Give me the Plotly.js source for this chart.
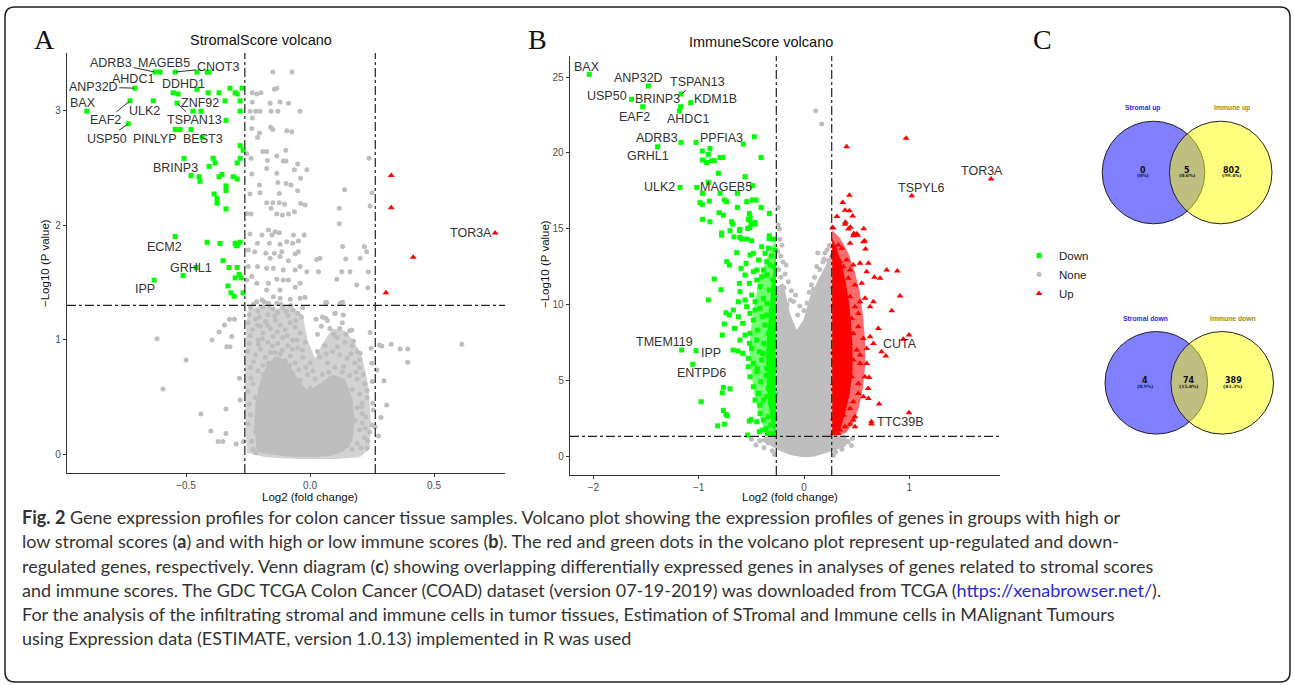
<!DOCTYPE html>
<html><head><meta charset="utf-8">
<script src="https://cdn.plot.ly/plotly-3.0.1.min.js"></script>
<style>html,body{margin:0;padding:0;background:#fff;}#fig{width:1295px;height:685px;}</style>
</head><body><div id="fig"></div>
<script>
const W = 1295, H = 685;
const FONT = 'Liberation Sans, Arial, sans-serif';
const CAPFONT = 'Lato, Open Sans, sans-serif';

// ---------- thresholds ----------
const FC_CUT = 0.263;   // log2(1.2)
const P_CUT = 1.301;    // -log10(0.05)

// ---------- Panel A: StromalScore volcano ----------
const aDown = [[-0.625,3.33],[-0.605,3.33],[-0.544,3.33],[-0.456,3.33],[-0.415,3.33],[-0.407,3.33],[-0.706,3.19],[-0.552,3.15],[-0.532,3.14],[-0.456,3.18],[-0.411,3.15],[-0.367,3.15],[-0.323,3.19],[-0.302,3.15],[-0.294,3.14],[-0.274,3.19],[-0.726,3.08],[-0.632,3.08],[-0.536,3.06],[-0.343,3.08],[-0.282,3.08],[-0.9,2.99],[-0.472,2.99],[-0.44,2.99],[-0.282,2.99],[-0.733,2.88],[-0.339,2.91],[-0.544,2.83],[-0.524,2.83],[-0.48,2.83],[-0.435,2.76],[-0.282,2.69],[-0.27,2.65],[-0.508,2.58],[-0.282,2.58],[-0.391,2.58],[-0.383,2.54],[-0.407,2.51],[-0.294,2.54],[-0.48,2.43],[-0.448,2.42],[-0.444,2.38],[-0.355,2.44],[-0.367,2.42],[-0.31,2.42],[-0.294,2.40],[-0.339,2.34],[-0.339,2.30],[-0.387,2.27],[-0.375,2.23],[-0.375,2.19],[-0.339,2.14],[-0.544,1.9],[-0.415,1.85],[-0.363,1.84],[-0.302,1.84],[-0.298,1.82],[-0.282,1.85],[-0.294,1.82],[-0.351,1.69],[-0.327,1.63],[-0.294,1.63],[-0.46,1.63],[-0.512,1.56],[-0.286,1.57],[-0.278,1.54],[-0.302,1.54],[-0.629,1.52],[-0.331,1.47],[-0.319,1.41],[-0.306,1.38],[-0.27,1.41]];
const aUp = [[0.327,2.43],[0.327,2.15],[0.416,1.72],[0.306,1.41],[0.746,1.93]];
const aNoneTop = [[-0.150,3.33],[-0.073,3.33],[-0.233,3.15],[-0.215,3.14],[-0.198,3.15],[-0.144,3.18],[-0.134,3.19],[-0.233,3.07],[-0.161,3.06],[-0.121,3.07],[-0.087,3.06],[-0.242,2.99],[-0.219,2.99],[-0.202,2.99],[-0.157,2.99],[-0.130,2.99],[-0.040,2.99],[-0.233,2.93],[-0.235,2.84],[-0.159,2.85],[-0.151,2.83],[-0.094,2.82],[-0.074,2.81],[-0.204,2.80],[-0.212,2.76],[-0.191,2.64],[-0.175,2.64],[-0.098,2.65],[-0.134,2.60],[-0.255,2.62],[-0.238,2.58],[-0.172,2.56],[-0.108,2.556],[-0.097,2.556],[-0.050,2.53],[-0.063,2.48],[-0.013,2.48],[0.238,2.58],[-0.235,2.443],[-0.175,2.492],[-0.134,2.45],[-0.130,2.37],[-0.097,2.362],[-0.077,2.348],[-0.204,2.348],[-0.202,2.281],[-0.242,2.27],[-0.124,2.275],[-0.050,2.298],[-0.038,2.406],[0.139,2.307],[0.250,2.281],[-0.175,2.194],[-0.150,2.194],[-0.124,2.194],[-0.157,2.145],[-0.134,2.096],[-0.111,2.087],[-0.087,2.096],[-0.063,2.116],[-0.038,2.188],[-0.020,2.174],[-0.103,2.18],[-0.255,2.1],[-0.238,2.096],[0.118,2.145],[0.118,2.01],[0.242,2.165]];
const aNoneUpper = [[-0.168,1.957],[-0.141,1.942],[-0.124,1.933],[-0.154,1.913],[-0.194,1.913],[-0.242,1.922],[-0.212,1.841],[-0.164,1.841],[-0.121,1.832],[-0.094,1.855],[-0.070,1.841],[-0.047,1.861],[-0.024,1.913],[-0.067,1.913],[-0.047,1.768],[-0.060,1.748],[-0.114,1.768],[-0.144,1.754],[-0.178,1.754],[-0.223,1.768],[-0.249,1.783],[-0.161,1.710],[-0.121,1.725],[-0.087,1.690],[-0.040,1.638],[-0.060,1.609],[-0.013,1.594],[-0.108,1.609],[-0.148,1.623],[-0.175,1.623],[-0.212,1.638],[-0.249,1.638],[-0.235,1.551],[-0.255,1.522],[-0.215,1.493],[-0.168,1.493],[-0.134,1.528],[-0.108,1.522],[-0.087,1.522],[-0.060,1.458],[-0.040,1.493],[-0.121,1.435],[-0.175,1.435],[-0.148,1.377],[-0.121,1.362],[-0.215,1.333],[-0.194,1.348],[-0.168,1.319],[-0.134,1.319],[-0.080,1.354],[-0.040,1.362],[-0.020,1.371],[0.027,1.701],[0.040,1.710],[0.131,1.812],[0.144,1.704],[0.219,1.812],[0.228,1.768],[0.202,1.710],[0.034,1.594],[0.108,1.528],[0.128,1.594],[0.161,1.594],[0.235,1.594],[0.188,1.478],[0.067,1.328],[0.131,1.328],[0.233,1.455]];
const aNoneOuter = [[-0.617,1.01],[-0.5,0.826],[-0.593,0.574],[-0.44,0.357],[-0.4,0.209],[-0.339,0.4],[-0.371,0.116],[-0.352,0.116],[-0.339,0.187],[-0.323,0.94],[-0.336,0.94],[-0.367,1.07],[-0.345,1.13],[-0.325,1.18],[-0.305,1.18],[-0.316,1.03],[-0.395,1.0],[-0.285,0.667],[-0.282,0.478],[-0.298,0.096],[-0.269,0.116],[0.242,1.064],[0.246,0.928],[0.249,0.797],[0.251,0.638],[0.253,0.449],[0.255,0.391],[0.249,0.261],[0.280,0.957],[0.289,0.948],[0.327,0.962],[0.363,0.922],[0.394,0.922],[0.394,0.806],[0.612,0.962],[0.298,0.646],[0.309,0.435],[0.286,0.325],[0.269,0.739],[0.262,0.246],[0.276,0.165],[0.222,0.232],[0.208,0.42],[0.202,0.884],[0.168,1.087],[0.134,1.217],[0.101,1.232],[0.063,1.188],[0.024,1.18],[0.121,1.319],[0.063,1.325]];
const aNoneMid = [[-0.24,1.28],[-0.21,1.25],[-0.19,1.29],[-0.17,1.22],[-0.15,1.27],[-0.13,1.24],[-0.11,1.28],[-0.09,1.21],[-0.07,1.26],[-0.05,1.23],[-0.03,1.28],[-0.25,1.15],[-0.22,1.18],[-0.2,1.12],[-0.18,1.16],[-0.16,1.1],[-0.14,1.17],[-0.12,1.13],[-0.1,1.09],[-0.08,1.15],[-0.06,1.11],[-0.04,1.06],[-0.24,1.04],[-0.21,1.0],[-0.19,1.06],[-0.17,0.98],[-0.15,1.03],[-0.13,0.97],[-0.11,1.02],[-0.09,0.95],[-0.07,1.0],[-0.05,0.93],[-0.02,0.98],[-0.25,0.9],[-0.22,0.87],[-0.2,0.92],[-0.18,0.85],[-0.16,0.89],[-0.14,0.83],[-0.12,0.88],[-0.1,0.82],[-0.08,0.86],[-0.06,0.8],[-0.03,0.85],[0.0,0.8],[-0.24,0.76],[-0.21,0.73],[-0.19,0.78],[-0.17,0.7],[-0.15,0.75],[-0.13,0.68],[-0.11,0.73],[-0.09,0.66],[-0.07,0.71],[-0.04,0.65],[-0.01,0.7],[0.02,0.66],[-0.23,0.62],[-0.2,0.58],[-0.22,0.5],[-0.2,0.42],[-0.21,0.3],[-0.22,0.2],[-0.2,0.1],[-0.23,0.05],[-0.24,0.35],[-0.25,0.55],[0.05,1.2],[0.1,1.23],[0.13,1.15],[0.16,1.08],[0.08,1.1],[0.03,1.05],[0.11,1.02],[0.14,0.98],[0.17,0.95],[0.19,0.9],[0.06,0.95],[0.09,0.9],[0.12,0.87],[0.15,0.84],[0.18,0.8],[0.2,0.76],[0.04,0.85],[0.07,0.8],[0.1,0.76],[0.13,0.72],[0.16,0.69],[0.19,0.66],[0.22,0.62],[0.05,0.7],[0.08,0.66],[0.11,0.63],[0.14,0.6],[0.17,0.57],[0.2,0.53],[0.23,0.5],[0.16,0.45],[0.19,0.41],[0.21,0.36],[0.18,0.3],[0.2,0.22],[0.22,0.15],[0.19,0.1],[0.23,0.06],[0.17,0.05],[0.21,0.28],[0.24,0.2],[0.15,0.38],[-0.17,0.2],[-0.19,0.25],[-0.18,0.45],[-0.16,0.55],[-0.05,0.6],[0.0,0.58],[0.04,0.6],[0.15,0.25],[0.16,0.15],[0.15,0.08],[-0.15,0.05],[-0.12,0.62],[-0.08,0.62],[0.1,0.58]];
const aNoneMid2 = [[-0.245,1.22],[-0.228,1.31],[-0.205,1.2],[-0.185,1.33],[-0.165,1.3],[-0.142,1.21],[-0.118,1.31],[-0.098,1.25],[-0.078,1.3],[-0.058,1.17],[-0.035,1.2],[-0.232,1.09],[-0.212,1.13],[-0.192,1.01],[-0.172,1.13],[-0.152,0.95],[-0.132,1.07],[-0.112,0.91],[-0.092,1.04],[-0.072,0.92],[-0.052,1.0],[-0.03,0.91],[-0.245,0.97],[-0.228,0.81],[-0.208,0.96],[-0.188,0.7],[-0.168,0.8],[-0.142,0.89],[-0.122,0.77],[-0.1,0.7],[-0.082,0.78],[-0.062,0.67],[-0.045,0.74],[-0.018,0.76],[0.012,0.73],[0.03,0.9],[0.045,1.12],[0.07,1.17],[0.095,1.05],[0.12,1.1],[0.145,1.05],[0.175,0.99],[0.065,0.88],[0.11,0.94],[0.165,0.88],[0.2,0.83],[0.215,0.7],[0.23,0.56],[0.075,0.72],[0.135,0.77],[0.185,0.72],[0.21,0.45],[0.225,0.33],[0.232,0.12],[0.205,0.06],[-0.238,0.67],[-0.245,0.44],[-0.25,0.27],[-0.235,0.12],[-0.212,0.38],[-0.218,0.02]];
const aNoneHalo = [[-0.255,0.02],[-0.262,0.35],[-0.262,0.8],[-0.258,1.1],[-0.248,1.26],[-0.2,1.3],[-0.14,1.27],[-0.08,1.3],[-0.03,1.22],[-0.01,1.0],[0.02,0.84],[0.05,0.97],[0.09,1.1],[0.14,1.08],[0.18,0.98],[0.21,0.85],[0.235,0.6],[0.245,0.3],[0.24,0.05],[0.2,-0.02],[0.1,-0.035],[-0.05,-0.035],[-0.18,-0.02]];
const aNoneCore = [[-0.215,0.04],[-0.225,0.25],[-0.22,0.45],[-0.2,0.65],[-0.17,0.8],[-0.13,0.86],[-0.09,0.8],[-0.05,0.66],[-0.01,0.56],[0.04,0.62],[0.09,0.7],[0.14,0.66],[0.17,0.5],[0.18,0.3],[0.17,0.12],[0.135,0.03],[0.08,-0.01],[0.0,-0.02],[-0.08,-0.015],[-0.15,0.0],[-0.195,0.015]];
const aLabGenes = ['ADRB3','MAGEB5','CNOT3','AHDC1','ANP32D','DDHD1','BAX','ZNF92','ULK2','EAF2','TSPAN13','USP50','PINLYP','BEST3','BRINP3','ECM2','GRHL1','IPP','TOR3A'];
const aLabPts = [[-0.625,3.33],[-0.605,3.33],[-0.544,3.33],[-0.706,3.19],[-0.706,3.19],[-0.456,3.18],[-0.9,2.99],[-0.472,2.99],[-0.632,3.08],[-0.726,3.08],[-0.536,3.06],[-0.733,2.88],[-0.544,2.83],[-0.435,2.76],[-0.508,2.58],[-0.544,1.9],[-0.46,1.63],[-0.629,1.52],[0.746,1.93]];
const aLabPos = [[-0.802,3.41],[-0.589,3.41],[-0.371,3.37],[-0.712,3.27],[-0.874,3.2],[-0.512,3.23],[-0.915,3.06],[-0.444,3.06],[-0.669,2.99],[-0.823,2.91],[-0.464,2.91],[-0.819,2.75],[-0.625,2.75],[-0.431,2.75],[-0.544,2.5],[-0.585,1.81],[-0.48,1.63],[-0.665,1.44],[0.649,1.93]];
const aLabSeg = [true,false,true,false,true,false,false,false,false,true,true,true,false,false,false,false,false,false,false];

// ---------- Panel B: ImmuneScore volcano ----------
const bDownTop = [[-2.039,25.18],[-1.478,24.41],[-1.637,23.53],[-1.532,23.04],[-1.168,23.88],[-1.171,23.04],[-1.184,22.76],[-1.076,23.31],[-1.168,20.69],[-1.39,20.4],[-1.026,20.69],[-0.576,20.58],[-0.472,21.06],[-1.177,17.72],[-1.019,17.72],[-0.966,20.12],[-0.893,20.29],[-0.909,19.90],[-0.963,19.53],[-0.925,19.36],[-0.877,19.47],[-0.852,19.49],[-0.797,19.69],[-0.772,19.69],[-0.408,19.69],[-0.813,18.65],[-0.560,18.43],[-0.909,18.06],[-0.963,17.33],[-0.797,17.33],[-0.633,17.33],[-0.490,17.84],[-0.988,16.71],[-0.899,16.82],[-0.966,16.60],[-0.756,16.89],[-0.734,16.78],[-0.544,16.78],[-0.490,16.89],[-0.455,16.89],[-0.633,16.4],[-0.408,16.4],[-0.807,16.05],[-0.766,15.89],[-0.519,16.0],[-0.329,16.0],[-0.512,15.72],[-0.963,15.61],[-0.893,15.45],[-0.678,15.3],[-0.519,15.57],[-0.503,15.3],[-0.465,15.3],[-0.703,14.86],[-0.614,14.86],[-0.535,15.01],[-0.782,14.57],[-0.665,14.46],[-0.608,14.42],[-0.332,14.35]];
const bDownSparse = [[-0.852,11.68],[-0.788,10.97],[-0.909,10.3],[-0.757,8.71],[-0.776,7.98],[-1.162,6.99],[-1.026,6.95],[-1.057,6.05],[-0.978,3.58],[-0.766,4.53],[-0.703,4.44],[-0.775,4.17],[-0.766,3.0],[-0.741,2.74],[-0.728,2.66],[-0.82,1.99],[-0.757,2.1],[-0.674,6.99],[-0.627,6.93],[-0.66,8.42],[-0.741,9.45],[-0.709,9.3],[-0.519,2.3],[-0.503,2.4],[-0.535,1.38],[-0.424,1.6]];
const bDownDense = [[-0.782,14.72],[-0.687,15.46],[-0.608,14.95],[-0.529,15.62],[-0.513,15.07],[-0.465,15.4],[-0.545,14.31],[-0.592,14.31],[-0.497,14.2],[-0.329,14.53],[-0.291,14.31],[-0.734,12.82],[-0.709,12.6],[-0.639,13.43],[-0.598,12.38],[-0.55,12.71],[-0.513,13.26],[-0.481,13.37],[-0.433,12.93],[-0.402,13.81],[-0.37,13.37],[-0.354,12.82],[-0.323,12.6],[-0.386,12.27],[-0.449,12.27],[-0.307,13.2],[-0.285,12.49],[-0.338,13.7],[-0.275,13.59],[-0.614,11.39],[-0.608,10.84],[-0.56,11.94],[-0.519,11.39],[-0.497,10.62],[-0.449,11.61],[-0.418,11.17],[-0.386,10.4],[-0.354,11.94],[-0.329,10.95],[-0.297,11.61],[-0.275,10.51],[-0.465,10.18],[-0.56,10.29],[-0.624,10.18],[-0.354,10.07],[-0.402,11.83],[-0.481,12.16],[-0.671,9.63],[-0.624,9.19],[-0.582,8.75],[-0.545,9.85],[-0.513,9.41],[-0.481,8.97],[-0.443,8.31],[-0.418,9.74],[-0.392,9.19],[-0.37,8.64],[-0.338,8.09],[-0.307,9.63],[-0.291,8.97],[-0.275,8.42],[-0.513,8.09],[-0.56,7.98],[-0.465,9.63],[-0.354,9.3],[-0.608,7.65],[-0.582,6.77],[-0.529,6.44],[-0.519,7.43],[-0.497,7.1],[-0.481,6.11],[-0.449,7.65],[-0.424,6.88],[-0.402,6.33],[-0.38,7.43],[-0.354,5.78],[-0.329,6.99],[-0.307,6.55],[-0.285,7.65],[-0.275,5.89],[-0.443,5.78],[-0.529,5.89],[-0.392,6.77],[-0.513,5.23],[-0.481,4.57],[-0.449,5.56],[-0.433,4.13],[-0.411,4.9],[-0.386,3.69],[-0.36,5.34],[-0.338,4.46],[-0.316,3.47],[-0.297,5.01],[-0.275,4.02],[-0.418,3.36],[-0.465,3.69],[-0.354,3.91],[-0.291,3.36],[-0.418,2.81],[-0.386,2.37],[-0.36,1.82],[-0.338,2.59],[-0.316,2.04],[-0.297,1.49],[-0.275,2.48],[-0.348,1.49],[-0.392,1.71],[-0.291,2.92],[-0.449,2.26]];
const bDownHalo = [[-0.27,14.3],[-0.33,13.5],[-0.38,12.5],[-0.43,11.5],[-0.47,10.0],[-0.5,8.5],[-0.52,7.0],[-0.5,5.5],[-0.47,4.0],[-0.43,2.8],[-0.39,2.0],[-0.34,1.4],[-0.27,1.35]];
const bDownCore = [[-0.268,13.5],[-0.29,12.5],[-0.31,11.0],[-0.33,9.5],[-0.35,8.0],[-0.36,6.5],[-0.355,5.0],[-0.34,3.5],[-0.31,2.3],[-0.285,1.6],[-0.268,1.5]];
const bUpTop = [[0.969,20.96],[0.405,20.4],[1.776,18.27],[1.023,17.17],[0.431,17.2],[0.367,16.72],[0.39,16.22],[0.431,16.18],[0.312,15.8],[0.462,15.84],[0.393,15.43],[0.440,15.1],[0.273,15.05],[0.567,15.0],[0.473,14.68],[0.511,14.57]];
const bUpSparse = [[0.577,14.18],[0.584,13.65],[0.785,12.27],[0.886,12.2],[0.668,11.79],[0.722,11.72],[0.912,10.55],[0.833,9.59],[0.997,7.98],[0.943,7.7],[0.736,6.88],[0.777,6.6],[0.713,3.43],[0.640,2.26],[0.640,2.11],[0.997,2.86],[0.618,5.18],[0.609,4.45]];
const bUpDense = [[0.273,15.07],[0.39,15.29],[0.421,14.97],[0.468,14.53],[0.5,14.64],[0.279,13.81],[0.326,13.92],[0.358,13.7],[0.437,14.03],[0.564,14.14],[0.279,13.26],[0.295,13.04],[0.342,12.82],[0.374,12.49],[0.405,12.93],[0.437,12.27],[0.468,12.6],[0.532,12.71],[0.611,12.71],[0.595,12.16],[0.31,11.83],[0.358,11.39],[0.421,11.72],[0.484,11.28],[0.548,11.39],[0.279,11.17],[0.295,10.62],[0.342,10.84],[0.389,10.18],[0.437,10.51],[0.484,9.85],[0.532,10.18],[0.579,10.4],[0.627,9.85],[0.326,9.52],[0.374,9.19],[0.452,9.08],[0.659,10.18],[0.279,9.96],[0.516,9.41],[0.295,8.75],[0.342,8.31],[0.405,8.64],[0.468,8.09],[0.516,8.53],[0.564,7.76],[0.627,7.87],[0.706,8.42],[0.31,7.54],[0.374,7.21],[0.437,7.43],[0.5,6.99],[0.595,7.1],[0.659,7.43],[0.279,6.88],[0.295,6.33],[0.358,6.55],[0.421,5.89],[0.468,6.33],[0.532,6.11],[0.595,6.11],[0.326,5.34],[0.389,5.01],[0.452,5.23],[0.516,4.79],[0.579,5.23],[0.279,4.79],[0.532,6.66],[0.295,4.35],[0.342,3.91],[0.405,4.13],[0.468,3.58],[0.516,4.13],[0.564,3.91],[0.31,3.03],[0.374,2.7],[0.437,3.14],[0.484,2.59],[0.279,2.48],[0.611,3.8],[0.295,2.04],[0.342,1.71],[0.389,1.93],[0.437,2.1],[0.484,1.93],[0.326,1.49],[0.279,1.49],[0.468,2.37]];
const bUpHalo = [[0.268,14.9],[0.34,14.4],[0.42,13.4],[0.48,12.2],[0.53,10.8],[0.56,9.2],[0.58,7.6],[0.58,6.0],[0.56,4.5],[0.52,3.2],[0.47,2.2],[0.4,1.55],[0.33,1.35],[0.268,1.35]];
const bUpCore = [[0.268,14.4],[0.31,13.7],[0.36,12.6],[0.4,11.3],[0.43,10.0],[0.45,8.5],[0.46,7.0],[0.46,5.5],[0.43,4.0],[0.39,2.8],[0.35,1.9],[0.3,1.5],[0.268,1.45]];
const bNone = [[0.111,22.78],[0.168,21.9],[-0.244,16.4],[-0.234,14.97],[-0.244,15.24],[-0.25,13.5],[-0.22,13.2],[-0.2,12.8],[-0.24,12.3],[-0.18,12.0],[-0.15,11.5],[-0.12,10.9],[-0.1,10.2],[-0.22,11.8],[-0.06,9.3],[0.0,9.6],[0.05,10.8],[0.1,11.8],[0.15,12.3],[0.19,13.0],[0.22,13.6],[0.24,13.9],[-0.23,14.3],[-0.21,13.9],[0.2,13.4],[0.12,12.5],[0.18,12.8],[-0.17,12.6],[0.07,11.3],[-0.08,10.6],[0.23,12.9],[0.21,12.2],[-0.19,11.1],[-0.25,10.8],[-0.13,10.3],[-0.04,9.9],[0.03,10.1],[0.09,11.0],[0.16,11.6],[-0.2,10.5],[-0.16,10.0],[0.25,11.5],[0.13,13.4],[-0.456,0.73],[-0.42,1.0],[-0.38,0.55],[-0.34,0.85],[-0.3,0.35],[-0.32,1.1],[0.3,1.1],[0.34,0.8],[0.38,1.2],[0.42,0.95],[0.46,1.15],[0.36,0.45],[0.3,0.25],[0.45,0.7],[-0.5,1.1],[-0.28,0.1],[0.28,0.05]];
const bNoneCore = [[-0.266,1.5],[-0.266,11.17],[-0.196,11.39],[-0.133,9.41],[-0.070,8.31],[-0.006,8.97],[0.057,10.53],[0.136,11.62],[0.2,12.5],[0.253,13.37],[0.266,13.5],[0.266,1.5],[0.342,1.28],[0.437,1.06],[0.389,0.61],[0.247,0.28],[0.089,-0.05],[-0.006,-0.08],[-0.133,0.06],[-0.244,0.39],[-0.354,0.83],[-0.433,1.06],[-0.354,1.28]];
const bLabGenes = ['BAX','ANP32D','TSPAN13','USP50','BRINP3','KDM1B','EAF2','AHDC1','ADRB3','PPFIA3','GRHL1','ULK2','MAGEB5','TOR3A','TSPYL6','TMEM119','IPP','ENTPD6','CUTA','TTC39B'];
const bLabPts = [[-2.039,25.18],[-1.478,24.41],[-1.168,23.88],[-1.637,23.53],[-1.171,23.04],[-1.076,23.31],[-1.532,23.04],[-1.184,22.76],[-1.168,20.69],[-1.026,20.69],[-1.39,20.4],[-1.177,17.72],[-1.019,17.72],[1.776,18.27],[1.023,17.17],[-1.162,6.99],[-1.026,6.95],[-1.057,6.05],[0.997,7.98],[0.640,2.26]];
const bLabPos = [[-2.064,25.68],[-1.567,24.91],[-1.01,24.69],[-1.868,23.75],[-1.393,23.55],[-0.839,23.55],[-1.614,22.38],[-1.099,22.21],[-1.396,21.0],[-0.788,21.0],[-1.478,19.79],[-1.368,17.72],[-0.741,17.72],[1.69,18.82],[1.111,17.7],[-1.327,7.54],[-0.886,6.77],[-0.972,5.45],[0.912,7.37],[0.912,2.22]];
const bLabSeg = [false,false,true,false,false,false,false,false,false,false,false,false,false,false,false,false,false,false,false,false];

// ---------- Panel C: Venn diagrams ----------
const vennUpSets = ['Stromal up','Immune up'];
const vennUpCounts = [0,5,802];
const vennUpPct = ['(0%)','(0.6%)','(99.4%)'];
const vennDownSets = ['Stromal down','Immune down'];
const vennDownCounts = [4,74,389];
const vennDownPct = ['(0.9%)','(15.8%)','(83.3%)'];

// ---------- caption ----------
const captionLines = [
 '<b>Fig. 2</b> Gene expression profiles for colon cancer tissue samples. Volcano plot showing the expression profiles of genes in groups with high or',
 'low stromal scores (<b>a</b>) and with high or low immune scores (<b>b</b>). The red and green dots in the volcano plot represent up-regulated and down-',
 'regulated genes, respectively. Venn diagram (<b>c</b>) showing overlapping differentially expressed genes in analyses of genes related to stromal scores',
 'and immune scores. The GDC TCGA Colon Cancer (COAD) dataset (version 07-19-2019) was downloaded from TCGA (<span style="color:#2a2ad6">https://xenabrowser.net/</span>).',
 'For the analysis of the infiltrating stromal and immune cells in tumor tissues, Estimation of STromal and Immune cells in MAlignant Tumours',
 'using Expression data (ESTIMATE, version 1.0.13) implemented in R was used'
];

// ---------- helpers ----------
const px = x => x / W;
const py = y => 1 - y / H;
const xs = a => a.map(p => p[0]);
const ys = a => a.map(p => p[1]);
const GRAY = '#bebebe', GREEN = '#00ff00', RED = '#ff0000';

function pts(arr, xa, ya, color, symbol, size, name, showleg) {
  return {x: xs(arr), y: ys(arr), xaxis: xa, yaxis: ya, type: 'scatter', mode: 'markers',
    marker: {color: color, symbol: symbol, size: size, line: {width: 0}},
    name: name, legendgroup: name, showlegend: !!showleg, hoverinfo: 'skip', cliponaxis: false};
}
function poly(arr, xa, ya, color) {
  return {x: xs(arr), y: ys(arr), xaxis: xa, yaxis: ya, type: 'scatter', mode: 'lines',
    fill: 'toself', fillcolor: color, line: {width: 0, color: color}, showlegend: false, hoverinfo: 'skip'};
}

const traces = [
  poly(aNoneHalo, 'x', 'y', '#d2d2d2'),
  poly(aNoneCore, 'x', 'y', GRAY),
  pts(aNoneTop.concat(aNoneUpper, aNoneOuter, aNoneMid, aNoneMid2), 'x', 'y', GRAY, 'circle', 5, 'None', false),
  pts(aDown, 'x', 'y', GREEN, 'square', 5, 'Down', true),
  pts([[null, null]], 'x', 'y', GRAY, 'circle', 5, 'None', true),
  pts(aUp, 'x', 'y', RED, 'triangle-up', 6, 'Up', true),
  poly(bNoneCore, 'x2', 'y2', GRAY),
  pts(bNone, 'x2', 'y2', GRAY, 'circle', 5, 'None', false),
  poly(bDownHalo, 'x2', 'y2', '#70ff70'),
  poly(bDownCore, 'x2', 'y2', GREEN),
  pts(bDownTop.concat(bDownSparse, bDownDense), 'x2', 'y2', GREEN, 'square', 5, 'Down', false),
  poly(bUpHalo, 'x2', 'y2', '#ff6a6a'),
  poly(bUpCore, 'x2', 'y2', RED),
  pts(bUpTop.concat(bUpSparse, bUpDense), 'x2', 'y2', RED, 'triangle-up', 6, 'Up', false)
];

function labelAnns(genes, ptsArr, pos, seg, xr, yr) {
  return genes.map((g, i) => {
    const a = {text: g, xref: xr, yref: yr, xanchor: 'center', yanchor: 'middle', font: {family: FONT, size: 12.5, color: '#333'}};
    if (seg[i]) {
      Object.assign(a, {x: ptsArr[i][0], y: ptsArr[i][1], ax: pos[i][0], ay: pos[i][1], axref: xr, ayref: yr,
        showarrow: true, arrowhead: 0, arrowwidth: 1, arrowcolor: '#333', standoff: 1});
    } else {
      Object.assign(a, {x: pos[i][0], y: pos[i][1], showarrow: false});
    }
    return a;
  });
}

function axisX(domain, range, tickvals, fmt) {
  return {domain: domain, range: range, tickvals: tickvals, tickformat: fmt, ticks: 'outside', ticklen: 3,
    tickcolor: '#333', tickwidth: 1, tickfont: {family: FONT, size: 10, color: '#4d4d4d'},
    showline: true, linecolor: '#333', linewidth: 1.3, showgrid: false, zeroline: false, fixedrange: true};
}

const annotations = [];
function txt(t, x, y, font, extra) {
  annotations.push(Object.assign({text: t, x: px(x), y: py(y), xref: 'paper', yref: 'paper', xanchor: 'center', yanchor: 'middle',
    showarrow: false, font: font}, extra || {}));
}
// panel letters
[['A', 44], ['B', 537], ['C', 1042]].forEach(([t, x]) => txt(t, x, 39, {family: 'Liberation Serif, Times New Roman, serif', size: 28, color: '#111'}));
// titles
txt('StromalScore volcano', 261, 40, {family: FONT, size: 14.5, color: '#111'});
txt('ImmuneScore volcano', 761, 42, {family: FONT, size: 14.5, color: '#111'});
// axis titles
txt('Log2 (fold change)', 310, 497, {family: FONT, size: 11.5, color: '#111'});
txt('Log2 (fold change)', 790, 497, {family: FONT, size: 11.5, color: '#111'});
txt('\u2212Log10 (P value)', 45, 263, {family: FONT, size: 11.5, color: '#111'}, {textangle: -90});
txt('\u2212Log10 (P value)', 545, 264, {family: FONT, size: 11.5, color: '#111'}, {textangle: -90});
// gene labels
annotations.push(...labelAnns(aLabGenes, aLabPts, aLabPos, aLabSeg, 'x', 'y'));
annotations.push(...labelAnns(bLabGenes, bLabPts, bLabPos, bLabSeg, 'x2', 'y2'));

// Venn diagrams
const shapes = [];
function venn(sets, counts, pct, cy, lx, rx, labY) {
  const r = 51.3;
  shapes.push({type: 'circle', xref: 'paper', yref: 'paper', x0: px(lx - r), x1: px(lx + r), y0: py(cy + r), y1: py(cy - r),
    fillcolor: 'rgba(0,0,255,0.5)', line: {color: '#222', width: 1}, layer: 'above'});
  shapes.push({type: 'circle', xref: 'paper', yref: 'paper', x0: px(rx - r), x1: px(rx + r), y0: py(cy + r), y1: py(cy - r),
    fillcolor: 'rgba(255,255,0,0.5)', line: {color: '#222', width: 1}, layer: 'above'});
  const cols = ['#2b2bf0', '#8f8f2e'];
  [lx - 11, rx + 11].forEach((x, i) => txt('<b>' + sets[i] + '</b>', x, labY, {family: FONT, size: 6.8, color: cols[i]}));
  const nx = [lx - 11, (lx + rx) / 2, rx + 11];
  nx.forEach((x, i) => {
    txt('<b>' + counts[i] + '</b>', x, cy - 2.5, {family: 'DejaVu Sans, sans-serif', size: 8, color: '#111'});
    txt('<b>' + pct[i] + '</b>', x, cy + 3.5, {family: 'DejaVu Serif, serif', size: 4.5, color: '#111'});
  });
}
venn(vennUpSets, vennUpCounts, vennUpPct, 172.5, 1153.5, 1220.7, 107.7);
venn(vennDownSets, vennDownCounts, vennDownPct, 382.8, 1156.3, 1222.2, 318.7);

// threshold lines
const dl = {color: '#222', width: 1.2, dash: 'dashdot'};
[['x', 'y'], ['x2', 'y2']].forEach(([xa, ya]) => {
  [-FC_CUT, FC_CUT].forEach(v => shapes.push({type: 'line', xref: xa, yref: ya + ' domain', x0: v, x1: v, y0: 0, y1: 1, line: dl, layer: 'above'}));
  shapes.push({type: 'line', xref: xa + ' domain', yref: ya, x0: 0, x1: 1, y0: P_CUT, y1: P_CUT, line: dl, layer: 'above'});
});

// outer rounded frame
(function () {
  const x0 = px(5), x1 = px(1290), yT = py(7), yB = py(682), rx = 10 / W, ry = 10 / H;
  const p = `M ${x0 + rx},${yT} L ${x1 - rx},${yT} Q ${x1},${yT} ${x1},${yT - ry} L ${x1},${yB + ry} Q ${x1},${yB} ${x1 - rx},${yB} L ${x0 + rx},${yB} Q ${x0},${yB} ${x0},${yB + ry} L ${x0},${yT - ry} Q ${x0},${yT} ${x0 + rx},${yT} Z`;
  shapes.push({type: 'path', xref: 'paper', yref: 'paper', path: p, line: {color: '#222', width: 1.5}, fillcolor: 'rgba(0,0,0,0)', layer: 'above'});
})();

// caption
const capY = [517, 541, 566, 590, 614, 638];
captionLines.forEach((t, i) => txt(t, 20, capY[i], {family: CAPFONT, size: 18, color: '#333'}, {xanchor: 'left', align: 'left'}));

const layout = {
  width: W, height: H, margin: {l: 0, r: 0, t: 0, b: 0, pad: 0},
  paper_bgcolor: '#ffffff', plot_bgcolor: 'rgba(0,0,0,0)', hovermode: false,
  showlegend: true,
  legend: {x: px(1019), y: py(241), xanchor: 'left', yanchor: 'top', bgcolor: 'rgba(0,0,0,0)',
    font: {family: FONT, size: 11.5, color: '#222'}, tracegroupgap: 0, traceorder: 'normal'},
  xaxis: Object.assign(axisX([px(67), px(505)], [-0.98, 0.786], [-0.5, 0, 0.5], '.1f'), {anchor: 'y'}),
  yaxis: Object.assign(axisX([py(473), py(53)], [-0.157, 3.496], [0, 1, 2, 3], 'd'), {anchor: 'x'}),
  xaxis2: Object.assign(axisX([px(570), px(1000)], [-2.222, 1.861], [-2, -1, 0, 1], 'd'), {anchor: 'y2'}),
  yaxis2: Object.assign(axisX([py(475), py(56)], [-1.253, 26.39], [0, 5, 10, 15, 20, 25], 'd'), {anchor: 'x2'}),
  shapes: shapes, annotations: annotations
};

Plotly.newPlot('fig', traces, layout, {displayModeBar: false, staticPlot: true});
</script></body></html>
